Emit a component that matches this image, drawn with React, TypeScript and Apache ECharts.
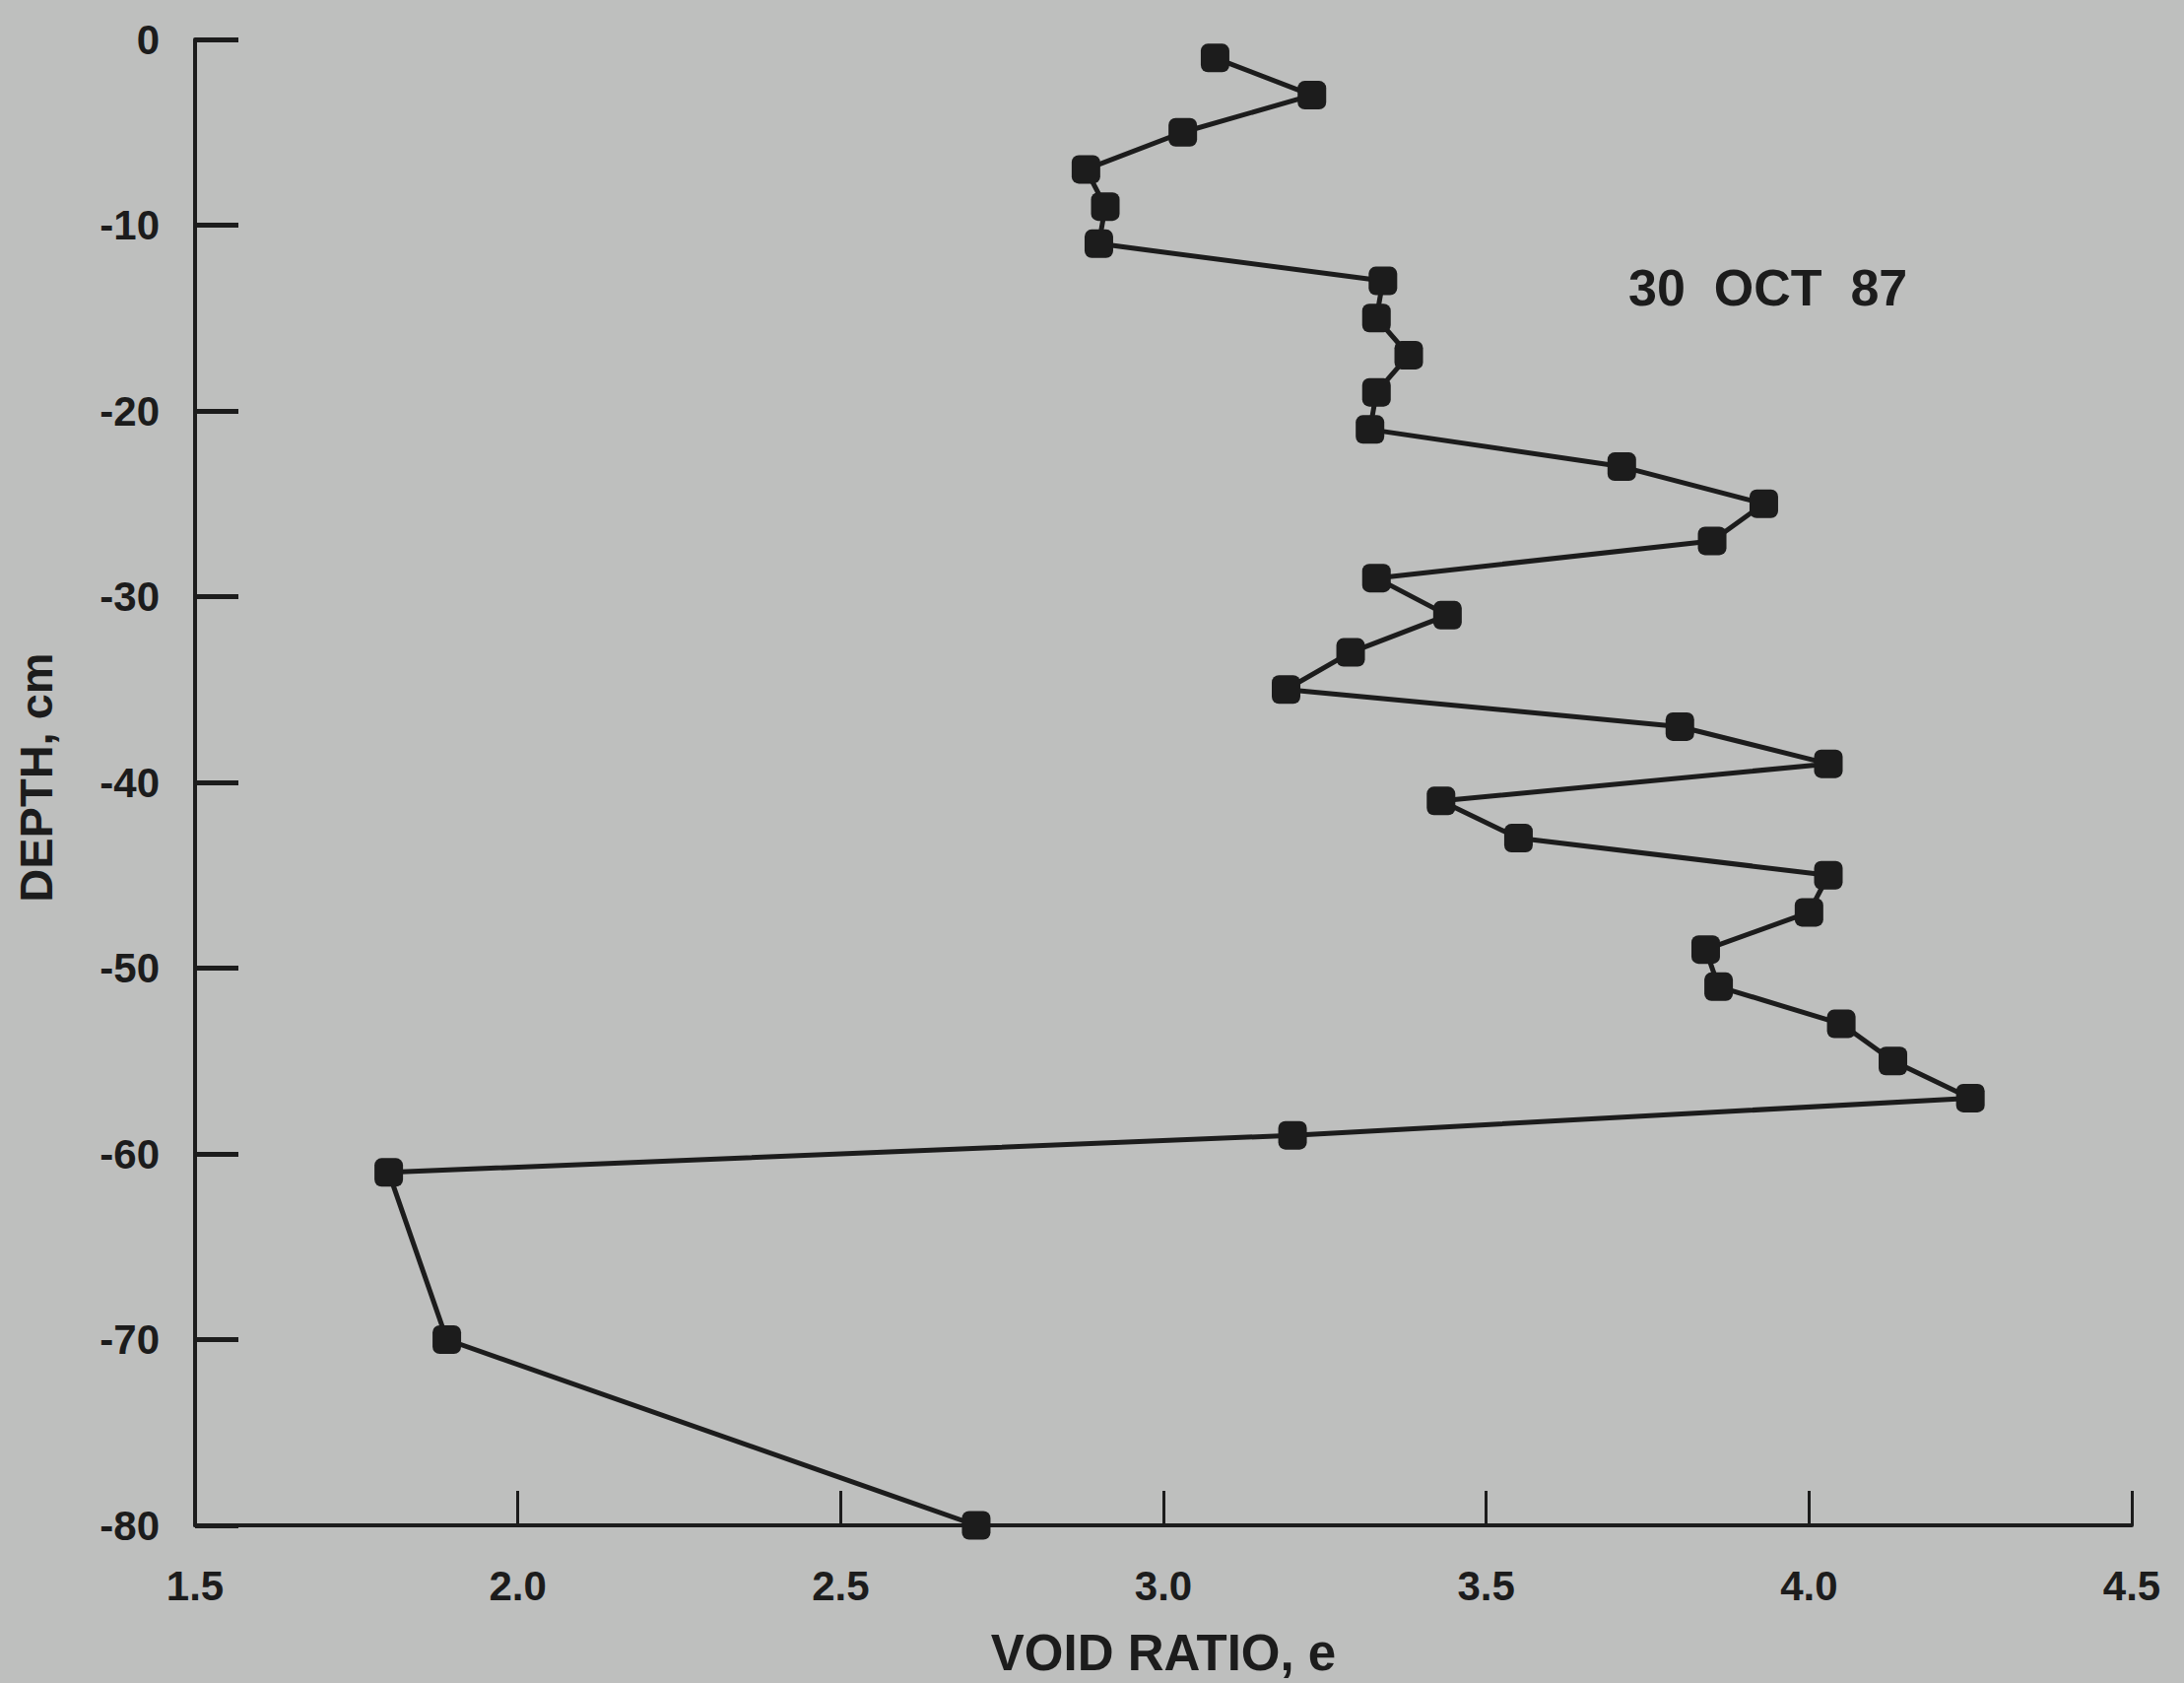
import React, { useEffect, useRef } from "react";
import * as echarts from "echarts";

const depths: number[] = [
  -1, -3, -5, -7, -9, -11, -13, -15, -17, -19, -21, -23, -25, -27, -29, -31,
  -33, -35, -37, -39, -41, -43, -45, -47, -49, -51, -53, -55, -57, -59, -61,
  -70, -80,
];
const voidRatios: number[] = [
  3.08, 3.23, 3.03, 2.88, 2.91, 2.9, 3.34, 3.33, 3.38, 3.33, 3.32, 3.71, 3.93,
  3.85, 3.33, 3.44, 3.29, 3.19, 3.8, 4.03, 3.43, 3.55, 4.03, 4.0, 3.84, 3.86,
  4.05, 4.13, 4.25, 3.2, 1.8, 1.89, 2.71,
];
const xTicks = { min: 1.5, max: 4.5, interval: 0.5 };
const yTicks = { min: -80, max: 0, interval: 10 };
const annotation = "30  OCT  87";
const xName = "VOID RATIO, e";
const yName = "DEPTH, cm";

const INK = "#1c1c1c";
const BG = "#bebfbe";
const FONT = "'Liberation Sans', Arial, Helvetica, sans-serif";

export default function App() {
  const ref = useRef<HTMLDivElement>(null);
  useEffect(() => {
    document.body.style.margin = "0";
    document.body.style.overflow = "hidden";
    document.body.style.background = BG;
    if (!ref.current) return;
    const chart = echarts.init(ref.current, undefined, { renderer: "svg" });
    const data = depths.map((d, i) => [voidRatios[i], d]);
    chart.setOption({
      animation: false,
      backgroundColor: BG,
      grid: { left: 198, top: 40, right: 53, bottom: 160, containLabel: false },
      xAxis: {
        type: "value",
        min: xTicks.min,
        max: xTicks.max,
        interval: xTicks.interval,
        name: xName,
        nameLocation: "middle",
        nameGap: 104,
        nameTextStyle: { color: INK, fontSize: 51, fontWeight: "bold", fontFamily: FONT },
        axisLine: { show: true, onZero: false, lineStyle: { color: INK, width: 4 } },
        axisTick: { show: true, inside: true, length: 35, lineStyle: { color: INK, width: 3 } },
        axisLabel: {
          color: INK,
          fontSize: 42,
          fontWeight: "bold",
          fontFamily: FONT,
          margin: 40,
          formatter: (v: number) => v.toFixed(1),
        },
        splitLine: { show: false },
      },
      yAxis: {
        type: "value",
        min: yTicks.min,
        max: yTicks.max,
        interval: yTicks.interval,
        name: yName,
        nameLocation: "middle",
        nameGap: 138,
        nameRotate: 90,
        nameTextStyle: {
          color: INK,
          fontSize: 47,
          fontWeight: "bold",
          fontFamily: FONT,
          padding: [0, 0, 0, 10],
        },
        axisLine: { show: true, onZero: false, lineStyle: { color: INK, width: 4 } },
        axisTick: { show: true, inside: true, length: 44, lineStyle: { color: INK, width: 5 } },
        axisLabel: {
          color: INK,
          fontSize: 42,
          fontWeight: "bold",
          fontFamily: FONT,
          margin: 36,
        },
        splitLine: { show: false },
      },
      graphic: [
        {
          type: "text",
          left: 1653,
          top: 266,
          style: {
            text: annotation,
            fill: INK,
            font: `bold 52px ${FONT}`,
          },
        },
      ],
      series: [
        {
          type: "line",
          data,
          symbol: "roundRect",
          symbolSize: 29,
          itemStyle: { color: INK },
          lineStyle: { color: INK, width: 5 },
        },
      ],
    });
    return () => chart.dispose();
  }, []);
  return <div ref={ref} style={{ width: 2217, height: 1708 }} />;
}
